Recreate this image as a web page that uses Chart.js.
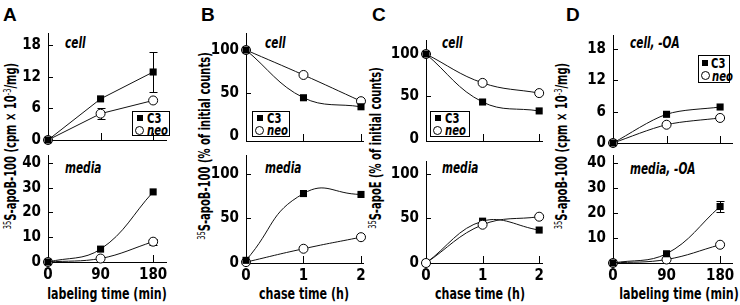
<!DOCTYPE html>
<html>
<head>
<meta charset="utf-8">
<script src="https://cdn.jsdelivr.net/npm/chart.js@4.4.1/dist/chart.umd.min.js"></script>
<style>
  body { margin: 0; width: 740px; height: 305px; position: relative; background: #fff; overflow: hidden; }
  canvas { position: absolute; }
  .txt { position: absolute; white-space: nowrap; color: #000; line-height: 1;
         font-family: "DejaVu Sans Condensed", "DejaVu Sans", sans-serif; font-weight: bold; }
  .letter { font-family: "Liberation Sans", Arial, sans-serif; font-size: 19px; }
  .sub { font-style: italic; font-size: 15px; transform: translateY(-50%) scaleX(0.78); transform-origin: left center; }
  .ylab { font-size: 15px; transform: translate(-50%, -50%) rotate(-90deg) scaleX(0.74); }
  .ylab sup { font-size: 10px; font-weight: normal; vertical-align: 5px; line-height: 0; }
  .xlab { font-size: 16px; transform: translate(-50%, -50%) scaleX(0.77); }
  .legend { position: absolute; border: 1px solid #000; box-sizing: border-box; background: #fff;
            font-family: "DejaVu Sans Condensed", "DejaVu Sans", sans-serif;
            font-weight: bold; font-size: 14px; line-height: 12px; }
  .legend .row { display: flex; align-items: center; height: 12px; }
  .legend .t { display: inline-block; transform: scaleX(0.8); transform-origin: left center; }
  .legend .sq { flex: 0 0 auto; width: 6px; height: 6px; background: #000; display: inline-block; margin: 0 4px 0 4px; }
  .legend .ci { flex: 0 0 auto; width: 7px; height: 7px; border: 1px solid #000; border-radius: 50%; display: inline-block; margin: 0 3px 0 2px; }
  .legend i { font-style: italic; }
</style>
</head>
<body>
<div class="txt letter" style="left:3px;top:5px">A</div>
<div class="txt letter" style="left:201px;top:5px">B</div>
<div class="txt letter" style="left:372px;top:5px">C</div>
<div class="txt letter" style="left:566px;top:5px">D</div>

<div class="txt ylab" style="left:11px;top:146px"><sup>35</sup>S-apoB-100 (cpm × 10<sup>-3</sup>/mg)</div>
<div class="txt ylab" style="left:205px;top:146px"><sup>35</sup>S-apoB-100 (% of initial counts)</div>
<div class="txt ylab" style="left:376px;top:148px"><sup>35</sup>S-apoE (% of initial counts)</div>
<div class="txt ylab" style="left:562px;top:146px"><sup>35</sup>S-apoB-100 (cpm × 10<sup>-3</sup>/mg)</div>

<div class="txt xlab" style="left:107px;top:294px">labeling time (min)</div>
<div class="txt xlab" style="left:304px;top:294px">chase time (h)</div>
<div class="txt xlab" style="left:480px;top:294px">chase time (h)</div>
<div class="txt xlab" style="left:679px;top:294px">labeling time (min)</div>

<div class="txt sub" style="left:65px;top:43px">cell</div>
<div class="txt sub" style="left:65px;top:168px">media</div>
<div class="txt sub" style="left:265px;top:43px">cell</div>
<div class="txt sub" style="left:265px;top:168px">media</div>
<div class="txt sub" style="left:442px;top:43px">cell</div>
<div class="txt sub" style="left:442px;top:168px">media</div>
<div class="txt sub" style="left:630px;top:43px">cell, -OA</div>
<div class="txt sub" style="left:630px;top:169px">media, -OA</div>

<div class="legend" style="left:132px;top:111px;width:38px;height:25px">
  <div class="row"><span class="sq"></span><span class="t">C3</span></div>
  <div class="row"><span class="ci"></span><span class="t"><i>neo</i></span></div>
</div>
<div class="legend" style="left:252px;top:111px;width:38px;height:26px">
  <div class="row"><span class="sq"></span><span class="t">C3</span></div>
  <div class="row"><span class="ci"></span><span class="t"><i>neo</i></span></div>
</div>
<div class="legend" style="left:430px;top:111px;width:40px;height:26px">
  <div class="row"><span class="sq"></span><span class="t">C3</span></div>
  <div class="row"><span class="ci"></span><span class="t"><i>neo</i></span></div>
</div>
<div class="legend" style="left:698px;top:55px;width:32px;height:28px">
  <div class="row" style="height:13px"><span class="sq" style="margin:0 3px 0 3px"></span><span class="t">C3</span></div>
  <div class="row" style="height:13px"><span class="ci" style="margin:0 2px 0 2px"></span><span class="t"><i>neo</i></span></div>
</div>

<script>
// x values
const labelingTimes = [0, 90, 180];
const chaseTimes = [0, 1, 2];

// A: apoB-100, +OA (cpm x 10^-3 / mg)
const aCellC3 = [0, 7.8, 12.9];
const aCellC3Err = [0, 0, 3.8];
const aCellNeo = [0, 5.0, 7.5];
const aCellNeoErr = [0, 1.1, 0];
const aMediaC3 = [0, 5.2, 28.3];
const aMediaNeo = [0, 1.4, 8.2];
const aMediaNeoErr = [0, 0, 1.2];

// B: apoB-100 chase (% of initial counts)
const bCellC3 = [100, 44.5, 34];
const bCellNeo = [100, 71, 40.5];
const bMediaC3 = [3, 78, 77];
const bMediaNeo = [1, 16, 29];

// C: apoE chase (% of initial counts)
const cCellC3 = [100, 43.5, 33];
const cCellNeo = [100, 66, 54];
const cMediaC3 = [0, 47, 37];
const cMediaNeo = [0, 43, 52];

// D: apoB-100, -OA
const dCellC3 = [0, 5.5, 6.9];
const dCellNeo = [0, 3.5, 4.8];
const dMediaC3 = [0, 3.7, 22.6];
const dMediaC3Err = [0, 0, 2.2];
const dMediaNeo = [0, 1.4, 7.3];

// tick labels
const labelingTicks = [0, 90, 180];
const chaseTicks = [0, 1, 2];
const cellCountTicks = [0, 6, 12, 18];
const mediaCountTicks = [0, 10, 20, 30, 40];
const mediaCountTicksNoZero = [10, 20, 30, 40];
const percentTicks = [0, 50, 100];

const FONT = '"DejaVu Sans Condensed", "DejaVu Sans", sans-serif';

// ticks pointing into the plot, like the original figure
const innerTicks = {
    id: 'innerTicks',
    beforeDatasetsDraw(chart) {
        const { ctx, chartArea, scales: { x, y } } = chart;
        ctx.save();
        ctx.strokeStyle = '#000';
        ctx.lineWidth = 1;
        ctx.beginPath();
        y.ticks.forEach(t => {
            if (t.value === 0) return;
            const py = Math.round(y.getPixelForValue(t.value)) + 0.5;
            ctx.moveTo(chartArea.left, py);
            ctx.lineTo(chartArea.left + 5, py);
        });
        x.ticks.forEach(t => {
            if (t.value === 0) return;
            const px = Math.round(x.getPixelForValue(t.value)) + 0.5;
            ctx.moveTo(px, chartArea.bottom);
            ctx.lineTo(px, chartArea.bottom - 7);
        });
        ctx.stroke();
        ctx.restore();
    }
};

const errorBars = {
    id: 'errorBars',
    beforeDatasetsDraw(chart) {
        const { ctx, scales: { x, y } } = chart;
        ctx.save();
        ctx.strokeStyle = '#000';
        ctx.lineWidth = 1;
        chart.data.datasets.forEach(ds => {
            if (!ds.errors) return;
            ds.data.forEach((pt, i) => {
                const e = ds.errors[i];
                if (!e) return;
                const px = Math.round(x.getPixelForValue(pt.x)) + 0.5;
                const hi = Math.round(y.getPixelForValue(pt.y + e)) + 0.5;
                const lo = Math.round(y.getPixelForValue(pt.y - e)) + 0.5;
                ctx.beginPath();
                ctx.moveTo(px, hi); ctx.lineTo(px, lo);
                ctx.moveTo(px - 4, hi); ctx.lineTo(px + 4, hi);
                ctx.moveTo(px - 4, lo); ctx.lineTo(px + 4, lo);
                ctx.stroke();
            });
        });
        ctx.restore();
    }
};

const toPoints = (xs, ys) => xs.map((x, i) => ({ x, y: ys[i] }));

function makePanel(p) {
    const yw = 40, pt = 12, pr = 8;
    const xh = p.bottom ? 305 - p.B : 10;
    const w = p.R - p.L + yw + pr;
    const h = p.B - p.T + pt + xh;
    const cv = document.createElement('canvas');
    cv.width = w; cv.height = h;
    cv.style.left = (p.L - yw) + 'px';
    cv.style.top = (p.T - pt) + 'px';
    cv.style.width = w + 'px';
    cv.style.height = h + 'px';
    document.body.appendChild(cv);

    const tickFont = { family: FONT, size: 15, weight: 'bold' };

    new Chart(cv, {
        type: 'line',
        data: {
            datasets: [
                {
                    label: 'C3',
                    data: toPoints(p.xs, p.c3),
                    errors: p.c3Err,
                    borderColor: '#111', borderWidth: 1,
                    pointStyle: 'rect', pointRadius: 5,
                    pointBackgroundColor: '#000', pointBorderColor: '#000', pointBorderWidth: 0,
                    tension: p.tension, clip: false, order: p.neoOnTop ? 1 : 0
                },
                {
                    label: 'neo',
                    data: toPoints(p.xs, p.neo),
                    errors: p.neoErr,
                    borderColor: '#111', borderWidth: 1,
                    pointStyle: 'circle', pointRadius: 4.5,
                    pointBackgroundColor: '#fff', pointBorderColor: '#000', pointBorderWidth: 1,
                    tension: p.tension, clip: false, order: p.neoOnTop ? 0 : 1
                }
            ]
        },
        options: {
            responsive: false,
            animation: false,
            events: [],
            devicePixelRatio: 1,
            layout: { padding: { top: pt, right: pr, left: 0, bottom: 0 } },
            plugins: { legend: { display: false }, tooltip: { enabled: false } },
            scales: {
                x: {
                    type: 'linear', min: 0, max: p.xMax,
                    grid: { display: false, drawTicks: false },
                    border: { display: true, color: '#000', width: 1 },
                    ticks: { display: !!p.bottom, padding: 4, color: '#000', font: tickFont },
                    afterBuildTicks: s => { s.ticks = p.xTicks.map(v => ({ value: v })); },
                    afterFit: s => { s.height = xh; s.paddingLeft = 0; s.paddingRight = 0; }
                },
                y: {
                    type: 'linear', min: p.yMin, max: p.yMax,
                    grid: { display: false, drawTicks: false },
                    border: { display: true, color: '#000', width: 1 },
                    ticks: { padding: 7, color: '#000', font: tickFont },
                    afterBuildTicks: s => { s.ticks = p.yTicks.map(v => ({ value: v })); },
                    afterFit: s => { s.width = yw; s.paddingTop = 0; s.paddingBottom = 0; }
                }
            }
        },
        plugins: [innerTicks, errorBars]
    });
}

const panels = [
    { L: 48, T: 33, R: 166, B: 140, xs: labelingTimes, xMax: 202, xTicks: labelingTicks,
      yMin: 0, yMax: 20.3, yTicks: cellCountTicks,
      c3: aCellC3, c3Err: aCellC3Err, neo: aCellNeo, neoErr: aCellNeoErr, tension: 0 },
    { L: 48, T: 155, R: 166, B: 262, xs: labelingTimes, xMax: 202, xTicks: labelingTicks,
      yMin: 0, yMax: 43.2, yTicks: mediaCountTicks,
      c3: aMediaC3, neo: aMediaNeo, neoErr: aMediaNeoErr, tension: 0.4, bottom: true },
    { L: 246, T: 33, R: 363, B: 141, xs: chaseTimes, xMax: 2.035, xTicks: chaseTicks,
      yMin: -5.8, yMax: 119.8, yTicks: percentTicks,
      c3: bCellC3, neo: bCellNeo, tension: 0.4 },
    { L: 246, T: 155, R: 363, B: 263, xs: chaseTimes, xMax: 2.035, xTicks: chaseTicks,
      yMin: 0, yMax: 121.3, yTicks: percentTicks,
      c3: bMediaC3, neo: bMediaNeo, tension: 0.5, bottom: true },
    { L: 426, T: 40, R: 542, B: 141, xs: chaseTimes, xMax: 2.05, xTicks: chaseTicks,
      yMin: -2.4, yMax: 116.5, yTicks: percentTicks,
      c3: cCellC3, neo: cCellNeo, tension: 0.4 },
    { L: 426, T: 161, R: 542, B: 263, xs: chaseTimes, xMax: 2.05, xTicks: chaseTicks,
      yMin: 0, yMax: 114.6, yTicks: percentTicks,
      c3: cMediaC3, neo: cMediaNeo, tension: 0.4, neoOnTop: true, bottom: true },
    { L: 613, T: 35, R: 732, B: 143, xs: labelingTimes, xMax: 200, xTicks: labelingTicks,
      yMin: 0, yMax: 20.7, yTicks: cellCountTicks,
      c3: dCellC3, neo: dCellNeo, tension: 0.3 },
    { L: 613, T: 155, R: 732, B: 263, xs: labelingTimes, xMax: 200, xTicks: labelingTicks,
      yMin: 0, yMax: 43.2, yTicks: mediaCountTicksNoZero,
      c3: dMediaC3, c3Err: dMediaC3Err, neo: dMediaNeo, tension: 0.4, bottom: true }
];

panels.forEach(makePanel);
</script>
</body>
</html>
